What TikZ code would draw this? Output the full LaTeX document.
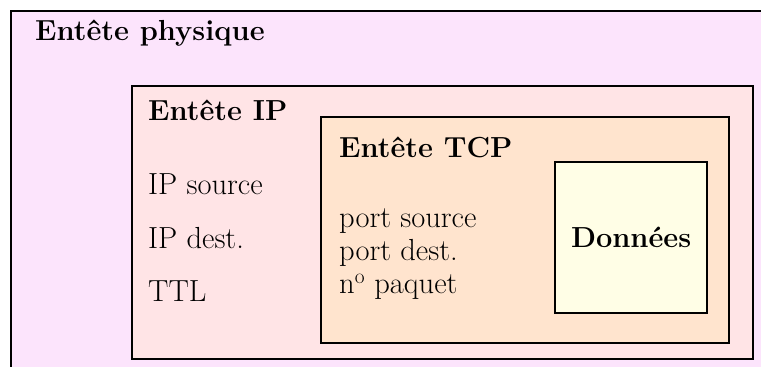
\documentclass[tikz,border=0pt]{standalone}
\usepackage{fontspec}
\definecolor{physc}{RGB}{252,228,252}
\definecolor{ipc}{RGB}{255,228,230}
\definecolor{tcpc}{RGB}{255,228,206}
\definecolor{datac}{RGB}{255,254,230}
\begin{document}
\begin{tikzpicture}[x=1pt,y=-1pt,
  frame/.style={draw=black, line width=2.2pt, rectangle, inner sep=0pt, anchor=north west},
  hdr/.style={anchor=base west, inner sep=0pt, font=\fontsize{29}{34}\selectfont\bfseries},
  txt/.style={anchor=base west, inner sep=0pt, font=\fontsize{30.5}{36}\selectfont}]
\path[use as bounding box] (0,0) rectangle (761,367);
\clip (0,0) rectangle (761,367);
\node[frame, fill=physc, minimum width=780pt, minimum height=390pt] (phys) at (10,10) {};
\node[frame, fill=ipc, minimum width=621pt, minimum height=273pt] (ip) at (131,85) {};
\node[frame, fill=tcpc, minimum width=408pt, minimum height=226pt] (tcp) at (320,116) {};
\node[frame, fill=datac, minimum width=152pt, minimum height=151pt,
      font=\fontsize{29}{34}\selectfont\bfseries] (data) at (554,161) {Données};
\node[hdr] (hphys) at (35,40) {Entête physique};
\node[hdr] (hip) at (148,120) {Entête IP};
\node[txt] (ipsrc) at (148,194) {IP source};
\node[txt] (ipdst) at (148,248) {IP dest.};
\node[txt] (ttl) at (148,301) {TTL};
\node[hdr] (htcp) at (339,157) {Entête TCP};
\node[txt] (psrc) at (339,227) {port source};
\node[txt] (pdst) at (339,260) {port dest.};
\node[txt] (npq) at (339,293) {n\textsuperscript{o}~paquet};
\end{tikzpicture}
\end{document}
